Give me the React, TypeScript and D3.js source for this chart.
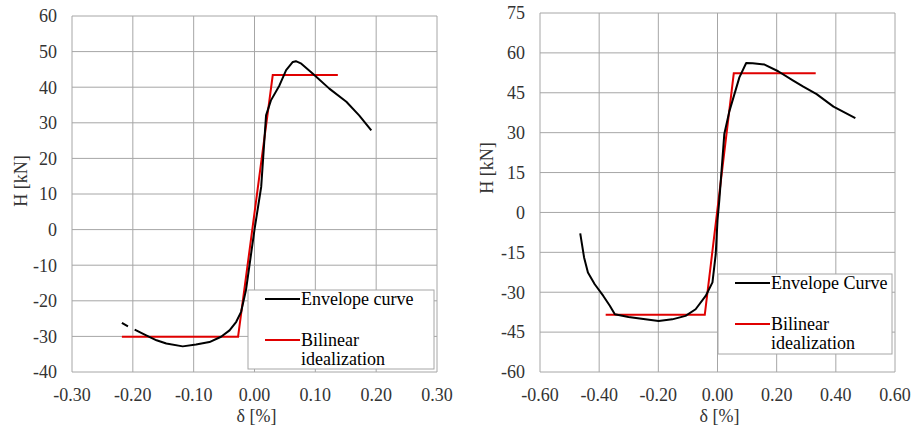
import React from 'react';
import * as d3 from 'd3';

// left specimen
const leftEnvDelta = [-0.218, -0.208, null, -0.197, -0.178, -0.161, -0.145, -0.118, -0.096, -0.074, -0.055, -0.041, -0.030, -0.022, -0.014, 0.0, 0.011, 0.019, 0.027, 0.041, 0.052, 0.063, 0.068, 0.077, 0.096, 0.123, 0.151, 0.172, 0.192];
const leftEnvH = [-26.2, -27.2, null, -28.1, -29.7, -31.1, -32.0, -32.8, -32.3, -31.6, -30.1, -28.3, -25.9, -23.1, -17, 0, 12, 32.1, 36.3, 40.5, 44.8, 47.1, 47.3, 46.6, 43.8, 39.6, 35.9, 32.1, 27.9];
const leftBiDelta = [-0.218, -0.027, 0.030, 0.137];
const leftBiH = [-30.1, -30.1, 43.4, 43.4];
const leftXTicks = [-0.3, -0.2, -0.1, 0, 0.1, 0.2, 0.3];
const leftYTicks = [-40, -30, -20, -10, 0, 10, 20, 30, 40, 50, 60];

// right specimen
const rightEnvDelta = [-0.464, -0.451, -0.438, -0.415, -0.386, -0.364, -0.347, -0.301, -0.244, -0.199, -0.153, -0.108, -0.074, -0.040, -0.017, -0.006, 0.0, 0.006, 0.023, 0.040, 0.074, 0.097, 0.119, 0.159, 0.205, 0.256, 0.290, 0.335, 0.392, 0.466];
const rightEnvH = [-7.9, -16.9, -22.6, -27, -31.4, -35.1, -38.3, -39.3, -40.2, -40.8, -40.2, -38.9, -36.4, -31.4, -26.3, -15.7, -3, 4.4, 29.5, 38.0, 50.8, 56.2, 56.1, 55.6, 53.1, 49.6, 47.3, 44.5, 39.8, 35.5];
const rightBiDelta = [-0.378, -0.043, 0.055, 0.332];
const rightBiH = [-38.5, -38.5, 52.3, 52.3];
const rightXTicks = [-0.6, -0.4, -0.2, 0, 0.2, 0.4, 0.6];
const rightYTicks = [-60, -45, -30, -15, 0, 15, 30, 45, 60, 75];

const FONT = 'Liberation Serif';
const GRID = '#a6a6a6';
const RED = '#e00000';

type Pt = [number, number] | null;
const zip = (xs: (number | null)[], ys: (number | null)[]): Pt[] =>
  xs.map((x, i) => (x === null || ys[i] === null ? null : [x, ys[i] as number]));

type ChartProps = {
  x0: number; x1: number; y0: number; y1: number;
  xTicks: number[]; yTicks: number[];
  env: Pt[]; bi: Pt[];
  envLabel: string;
  legend: { x: number; y: number; w: number; h: number };
  yLabel: { x: number; y: number };
};

const Chart = (c: ChartProps) => {
  const x = d3.scaleLinear()
    .domain([c.xTicks[0], c.xTicks[c.xTicks.length - 1]])
    .range([c.x0, c.x1]);
  const y = d3.scaleLinear()
    .domain([c.yTicks[0], c.yTicks[c.yTicks.length - 1]])
    .range([c.y1, c.y0]);
  const line = d3.line<Pt>()
    .defined(d => d !== null)
    .x(d => x((d as [number, number])[0]))
    .y(d => y((d as [number, number])[1]));
  const L = c.legend;
  const txt = { fontFamily: FONT };

  return (
    <g>
      {c.xTicks.map(t => (
        <line key={'vx' + t} x1={x(t)} x2={x(t)} y1={c.y0} y2={c.y1} stroke={GRID} strokeWidth={1} />
      ))}
      {c.yTicks.map(t => (
        <line key={'hy' + t} x1={c.x0} x2={c.x1} y1={y(t)} y2={y(t)} stroke={GRID} strokeWidth={1} />
      ))}
      {c.xTicks.map(t => (
        <text key={'tx' + t} x={x(t)} y={401} textAnchor="middle" fontSize={18} fill="#333" style={txt}>
          {t.toFixed(2)}
        </text>
      ))}
      {c.yTicks.map(t => (
        <text key={'ty' + t} x={c.x0 - 15} y={y(t)} dy="0.35em" textAnchor="end" fontSize={18} fill="#333" style={txt}>
          {t}
        </text>
      ))}
      <text x={(c.x0 + c.x1) / 2 + 2} y={422} textAnchor="middle" fontSize={18} fill="#333" style={txt}>δ [%]</text>
      <text transform={`translate(${c.yLabel.x},${c.yLabel.y}) rotate(-90)`} dy="0.35em" textAnchor="middle"
        fontSize={18} fill="#333" style={txt}>H [kN]</text>

      <path d={line(c.bi) || ''} fill="none" stroke={RED} strokeWidth={2} />
      <path d={line(c.env) || ''} fill="none" stroke="#000" strokeWidth={2} strokeLinejoin="round" />

      <g transform={`translate(${L.x},${L.y})`}>
        <rect width={L.w} height={L.h} fill="#fff" stroke={GRID} strokeWidth={1} />
        <line x1={17} x2={52} y1={9} y2={9} stroke="#000" strokeWidth={2} />
        <text x={53} y={15} fontSize={18} fill="#000" style={txt}>{c.envLabel}</text>
        <line x1={17} x2={52} y1={50} y2={50} stroke={RED} strokeWidth={2} />
        <text x={53} y={56} fontSize={18} fill="#000" style={txt}>Bilinear</text>
        <text x={53} y={75} fontSize={18} fill="#000" style={txt}>idealization</text>
      </g>
    </g>
  );
};

const App = () => (
  <div style={{ position: 'absolute', left: 0, top: 0, width: 913, height: 432, background: '#fff' }}>
    <svg width={913} height={432}>
      <Chart
        x0={72} x1={437} y0={16} y1={372}
        xTicks={leftXTicks} yTicks={leftYTicks}
        env={zip(leftEnvDelta, leftEnvH)} bi={zip(leftBiDelta, leftBiH)}
        envLabel="Envelope curve"
        legend={{ x: 248, y: 290, w: 186, h: 79 }}
        yLabel={{ x: 21, y: 181 }}
      />
      <Chart
        x0={540} x1={895} y0={13} y1={372}
        xTicks={rightXTicks} yTicks={rightYTicks}
        env={zip(rightEnvDelta, rightEnvH)} bi={zip(rightBiDelta, rightBiH)}
        envLabel="Envelope Curve"
        legend={{ x: 718, y: 274, w: 174, h: 80 }}
        yLabel={{ x: 487, y: 168 }}
      />
    </svg>
  </div>
);

export default App;
